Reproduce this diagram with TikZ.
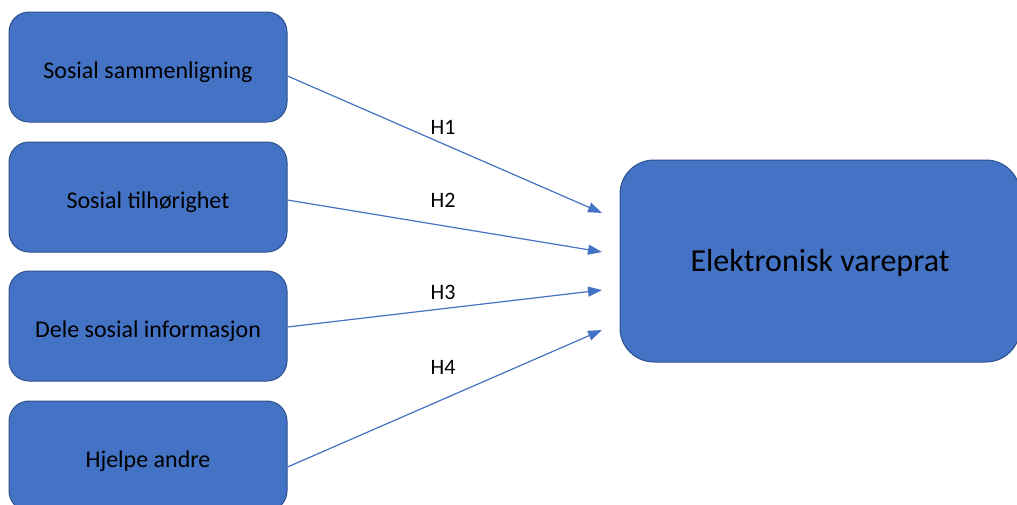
\documentclass[tikz,border=0pt]{standalone}
\usepackage{fontspec}
\setmainfont{Carlito}
\usetikzlibrary{arrows.meta}
\definecolor{boxblue}{HTML}{4472C4}
\definecolor{boxedge}{HTML}{2F528F}

\begin{document}
\begin{tikzpicture}[x=0.5pt,y=-0.5pt,
    faktor/.style={draw=boxedge, line width=0.5pt, fill=boxblue, rounded corners=10pt,
        minimum width=139pt, minimum height=55pt, inner sep=0pt,
        text height=13pt, text depth=1.6pt,
        font=\fontsize{12}{14}\selectfont},
    utfall/.style={faktor, rounded corners=17pt, minimum width=200pt,
        minimum height=101pt, text height=14pt, text depth=3.2pt,
        font=\fontsize{16}{19}\selectfont},
    pil/.style={draw=boxblue, line width=0.6pt, -{Triangle[length=7pt,width=5pt]}},
    hyp/.style={font=\fontsize{11}{13}\selectfont}]
    \useasboundingbox (0,0) rectangle (1017,504);
    \clip (0,0) rectangle (1017,504); % boksene nederst og til hoyre er kuttet
    \node[faktor] (sml) at (148,67)  {Sosial sammenligning};
    \node[faktor] (tlh) at (148,197) {Sosial tilhørighet};
    \node[faktor] (inf) at (148,326) {Dele sosial informasjon};
    \node[faktor] (hja) at (148,456) {Hjelpe andre};
    \node[utfall] (evp) at (820,261) {Elektronisk vareprat};
    \coordinate (e1) at (602,213);
    \coordinate (e2) at (602,252);
    \coordinate (e3) at (602,290);
    \coordinate (e4) at (602,330);
    \draw[pil] ([yshift=-4.5pt]sml.east) -- (e1);
    \draw[pil] ([yshift=-1.5pt]tlh.east) -- (e2);
    \draw[pil] ([yshift=-0.5pt]inf.east) -- (e3);
    \draw[pil] ([yshift=-5.5pt]hja.east) -- (e4);
    \node[hyp] (h1) at (443,127) {H1};
    \node[hyp] (h2) at (443,200) {H2};
    \node[hyp] (h3) at (443,292) {H3};
    \node[hyp] (h4) at (443,367) {H4};
\end{tikzpicture}
\end{document}
